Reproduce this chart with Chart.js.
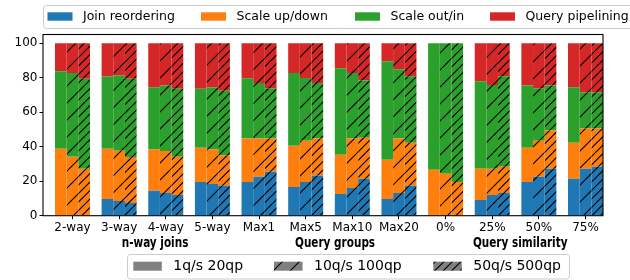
<!DOCTYPE html>
<html>
<head>
<meta charset="utf-8">
<script src="https://cdn.jsdelivr.net/npm/chart.js@4.4.0/dist/chart.umd.min.js"></script>
<style>
  html, body { margin: 0; padding: 0; background: #fff; }
</style>
</head>
<body>
<canvas id="chart" width="630" height="280"></canvas>
<script>
const categories = ['2-way', '3-way', '4-way', '5-way', 'Max1', 'Max5', 'Max10', 'Max20', '0%', '25%', '50%', '75%'];
const components = ['Join reordering', 'Scale up/down', 'Scale out/in', 'Query pipelining'];
const loads = ['1q/s 20qp', '10q/s 100qp', '50q/s 500qp'];
const groupLabels = ['n-way joins', 'Query groups', 'Query similarity'];
const yTicks = [0, 20, 40, 60, 80, 100];

// 1q/s 20qp (no hatch)
const join1   = [0, 9.7, 14.4, 19.6, 19.6, 16.7, 12.6, 9.7, 0, 9.1, 19.6, 21.4];
const updown1 = [38.8, 29.1, 23.9, 19.8, 25.1, 23.9, 22.7, 22.7, 26.6, 18.1, 19.8, 20.9];
const outin1  = [44.9, 41.8, 36.1, 34.2, 34.9, 42.1, 50.1, 57.1, 73.4, 50.7, 36.1, 32.1];
const pipe1   = [16.3, 19.4, 25.6, 26.4, 20.4, 17.3, 14.6, 10.5, 0, 22.1, 24.5, 25.6];

// 10q/s 100qp (/)
const join2   = [0, 8.5, 13.2, 18.4, 22.5, 19.6, 16.1, 13.2, 0, 12.0, 22.5, 27.2];
const updown2 = [34.2, 29.2, 24.3, 19.9, 22.2, 23.9, 28.6, 31.5, 24.3, 15.2, 21.0, 23.3];
const outin2  = [48.5, 43.7, 38.0, 36.1, 32.2, 36.3, 38.0, 40.2, 75.7, 48.5, 30.3, 21.0];
const pipe2   = [17.3, 18.6, 24.5, 25.6, 23.1, 20.2, 17.3, 15.1, 0, 24.3, 26.2, 28.5];

// 50q/s 500qp (//)
const join3   = [0, 7.4, 12.0, 17.3, 25.4, 23.3, 21.4, 17.3, 0, 13.2, 27.2, 28.3];
const updown3 = [27.2, 26.6, 22.2, 17.8, 19.3, 21.4, 23.8, 25.0, 19.6, 15.1, 22.1, 22.2];
const outin3  = [52.2, 45.4, 39.4, 37.3, 29.1, 32.2, 33.2, 38.5, 80.4, 52.5, 26.2, 21.0];
const pipe3   = [20.6, 20.6, 26.4, 27.6, 26.2, 23.1, 21.6, 19.2, 0, 19.2, 24.5, 28.5];

const series = [
  [join1, updown1, outin1, pipe1],
  [join2, updown2, outin2, pipe2],
  [join3, updown3, outin3, pipe3]
];

const colors = ['#1f77b4', '#ff7f0e', '#2ca02c', '#d62728'];
const hatchLines = [0, 1, 2];

const canvas = document.getElementById('chart');
const ctx = canvas.getContext('2d');

// fill colour + diagonal hatch lines, as a repeating pattern
function hatch(color, n) {
  const s = 17;
  const tile = document.createElement('canvas');
  tile.width = s;
  tile.height = s;
  const g = tile.getContext('2d');
  g.fillStyle = color;
  g.fillRect(0, 0, s, s);
  if (n > 0) {
    g.strokeStyle = '#000';
    g.lineWidth = 1.1;
    g.beginPath();
    for (let k = -s; k <= s; k += s / n) {
      g.moveTo(k, s);
      g.lineTo(k + s, 0);
    }
    g.stroke();
  }
  return ctx.createPattern(tile, 'repeat');
}

const datasets = [];
series.forEach((comps, li) => {
  comps.forEach((vals, ci) => {
    datasets.push({
      label: components[ci] + ' ' + loads[li],
      data: vals.map((v, i) => ({ x: i, y: v })),
      backgroundColor: hatch(colors[ci], hatchLines[li]),
      borderWidth: 0,
      stack: 'load' + li,
      categoryPercentage: 0.7504,
      barPercentage: 1
    });
  });
});

const font = 'DejaVu Sans';

const extras = {
  id: 'extras',
  afterDatasetsDraw(chart) {
    const a = chart.chartArea;
    const c = chart.ctx;
    c.save();
    c.strokeStyle = '#000';
    c.lineWidth = 1.1;
    c.strokeRect(a.left, a.top, a.right - a.left, a.bottom - a.top);
    c.restore();
  },
  afterDraw(chart) {
    const c = chart.ctx;
    const x = chart.scales.x;
    c.save();

    // group labels under the tick labels (bold, squeezed like a condensed face)
    c.fillStyle = '#000';
    c.font = 'bold 14px "DejaVu Sans Condensed", "DejaVu Sans", sans-serif';
    c.textAlign = 'center';
    c.textBaseline = 'alphabetic';
    const squeeze = 94.6 / c.measureText(groupLabels[2]).width;
    const groupPos = [1.77, 5.63, 9.6];
    groupLabels.forEach((t, i) => {
      c.save();
      c.translate(x.getPixelForValue(groupPos[i]), 246.5);
      c.scale(squeeze, 1);
      c.fillText(t, 0, 0);
      c.restore();
    });

    // top legend: components
    c.beginPath();
    c.roundRect(43.5, 5.5, 620, 23, 3);
    c.fillStyle = 'rgba(255,255,255,0.8)';
    c.fill();
    c.strokeStyle = '#cccccc';
    c.lineWidth = 1;
    c.stroke();
    const topPatch = [47.5, 201, 355, 490];
    c.font = '12.5px "' + font + '"';
    c.textAlign = 'left';
    c.textBaseline = 'middle';
    components.forEach((t, i) => {
      c.fillStyle = colors[i];
      c.fillRect(topPatch[i], 12.3, 25, 8.4);
      c.fillStyle = '#000';
      c.fillText(t, topPatch[i] + 35.5, 16.8);
    });

    // bottom legend: load levels
    c.beginPath();
    c.roundRect(127.5, 254.5, 442, 24.5, 3);
    c.fillStyle = 'rgba(255,255,255,0.8)';
    c.fill();
    c.strokeStyle = '#cccccc';
    c.stroke();
    const botPatch = [133.3, 274, 433.3];
    c.font = '14px "' + font + '"';
    loads.forEach((t, i) => {
      c.fillStyle = hatch('#808080', hatchLines[i]);
      c.fillRect(botPatch[i], 261.7, 28.5, 9);
      c.fillStyle = '#000';
      c.fillText(t, botPatch[i] + 40, 266.5);
    });
    c.restore();
  }
};

new Chart(canvas, {
  type: 'bar',
  data: { datasets: datasets },
  options: {
    responsive: false,
    animation: false,
    events: [],
    layout: { padding: { left: 0, right: 27, top: 34.5, bottom: 0 } },
    plugins: { legend: { display: false }, tooltip: { enabled: false } },
    scales: {
      x: {
        type: 'linear',
        min: -0.632,
        max: 11.375,
        bounds: 'data',
        offset: false,
        stacked: true,
        border: { display: false },
        grid: { offset: false, drawOnChartArea: false, drawTicks: true, tickLength: 3.5, color: '#000', lineWidth: 1 },
        ticks: {
          autoSkip: false,
          maxRotation: 0,
          padding: 1,
          color: '#000',
          font: { family: font, size: 12 },
          callback: v => categories[v]
        },
        afterBuildTicks: s => { s.ticks = categories.map((_, i) => ({ value: i })); },
        afterFit: s => {
          s.height = 64.3;
          s.paddingLeft = 0;
          s.paddingRight = 0;
        }
      },
      y: {
        min: 0,
        max: 105,
        bounds: 'data',
        stacked: true,
        border: { display: false },
        grid: { drawOnChartArea: false, drawTicks: true, tickLength: 3.5, color: '#000', lineWidth: 1 },
        ticks: {
          padding: 2,
          color: '#000',
          font: { family: font, size: 12 }
        },
        afterBuildTicks: s => { s.ticks = yTicks.map(v => ({ value: v })); },
        afterFit: s => {
          s.width = 43;
          s.paddingTop = 0;
          s.paddingBottom = 0;
        }
      }
    }
  },
  plugins: [extras]
});
</script>
</body>
</html>
